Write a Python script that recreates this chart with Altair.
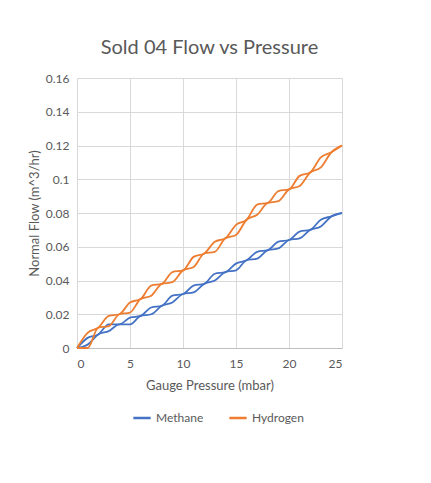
import altair as alt
import pandas as pd

pressure = list(range(0, 26))

methane_up = [0, 0.006, 0.008, 0.014, 0.014, 0.018, 0.019, 0.024, 0.025, 0.031, 0.032, 0.037, 0.038,
              0.044, 0.045, 0.050, 0.052, 0.057, 0.058, 0.063, 0.064, 0.069, 0.070, 0.076, 0.078, 0.080]
methane_down = [0, 0.002, 0.008, 0.010, 0.014, 0.014, 0.019, 0.020, 0.025, 0.027, 0.032, 0.033, 0.038,
                0.040, 0.045, 0.046, 0.052, 0.053, 0.058, 0.059, 0.064, 0.065, 0.070, 0.072, 0.078, 0.080]
hydrogen_up = [0, 0.009, 0.012, 0.019, 0.020, 0.027, 0.029, 0.037, 0.038, 0.045, 0.046, 0.054, 0.056,
               0.063, 0.065, 0.073, 0.076, 0.085, 0.086, 0.093, 0.094, 0.102, 0.104, 0.113, 0.116, 0.120]
hydrogen_down = [0, 0.000, 0.012, 0.013, 0.020, 0.021, 0.029, 0.031, 0.038, 0.039, 0.046, 0.048, 0.056,
                 0.057, 0.065, 0.067, 0.076, 0.079, 0.086, 0.087, 0.094, 0.096, 0.104, 0.107, 0.116, 0.120]

series = [("Methane", "up", methane_up), ("Methane", "down", methane_down),
          ("Hydrogen", "up", hydrogen_up), ("Hydrogen", "down", hydrogen_down)]

rows = []
for gas, path, vals in series:
    for i, (p, v) in enumerate(zip(pressure, vals)):
        rows.append({"gas": gas, "path": gas + path, "pressure": p, "flow": v, "order": i})
df = pd.DataFrame(rows)

font = "Lato"
grey = "#595959"

lines = alt.Chart(df).mark_line(strokeWidth=1.8, interpolate="monotone").encode(
    x=alt.X("pressure:Q", title="Gauge Pressure (mbar)",
            scale=alt.Scale(domain=[0, 25], nice=False),
            axis=alt.Axis(values=[0, 5, 10, 15, 20, 25], grid=True, domain=True,
                          domainColor="#bfbfbf", ticks=False, labelPadding=10, titlePadding=10)),
    y=alt.Y("flow:Q", title="Normal Flow (m^3/hr)",
            scale=alt.Scale(domain=[0, 0.16], nice=False),
            axis=alt.Axis(values=[0, 0.02, 0.04, 0.06, 0.08, 0.1, 0.12, 0.14, 0.16], format="~g",
                          grid=True, domain=False, ticks=False, labelPadding=8)),
    color=alt.Color("gas:N", sort=["Methane", "Hydrogen"],
                    scale=alt.Scale(domain=["Methane", "Hydrogen"], range=["#4472C4", "#ED7D31"]),
                    legend=alt.Legend(orient="none", legendX=55, legendY=330, title=None,
                                      symbolType="stroke", symbolStrokeWidth=2.5, symbolSize=300,
                                      direction="horizontal", columnPadding=20,
                                      labelFontSize=12, labelColor=grey, labelFont=font)),
    detail="path:N",
    order="order:Q",
)

chart = lines.properties(
    width=265, height=270,
    title=alt.TitleParams("Sold 04 Flow vs Pressure", fontSize=20, font=font, fontWeight="normal",
                          color=grey, anchor="middle", offset=14),
    padding={"left": 20, "right": 40, "top": 30, "bottom": 20},
    background="white",
).configure_axis(
    gridColor="#d9d9d9", labelColor=grey, labelFontSize=12, labelFont=font,
    titleColor=grey, titleFontSize=13, titleFont=font, titleFontWeight="normal",
).configure_view(stroke=None)

chart.save("out.html", embed_options={"renderer": "svg", "actions": False})
